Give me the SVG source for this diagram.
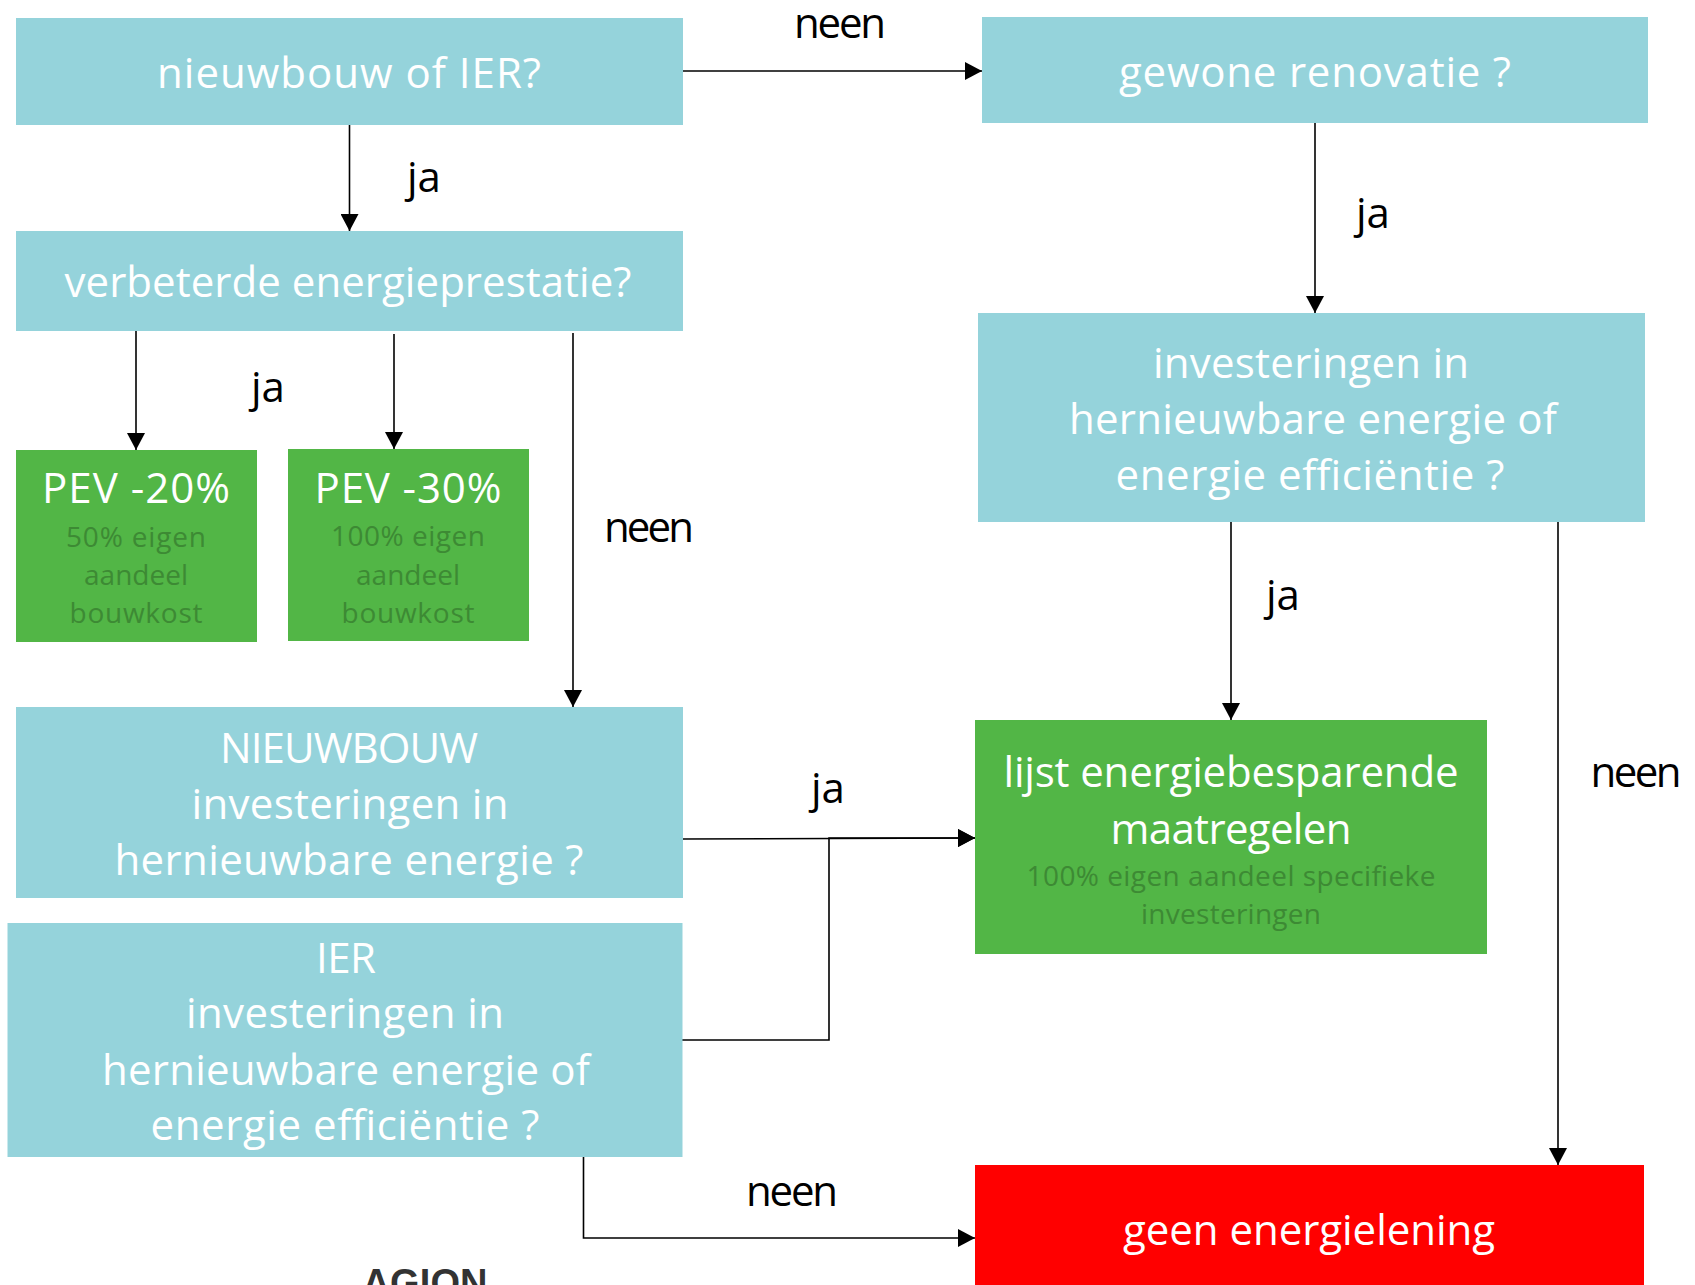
<svg xmlns="http://www.w3.org/2000/svg" width="1695" height="1285" viewBox="0 0 1695 1285">
<style>
.blue{fill:#95D3DB}
.green{fill:#52B646}
.red{fill:#FF0000}
.t{font-family:"Open Sans","Noto Sans","DejaVu Sans",sans-serif;fill:#FFFFFF;font-size:42px;text-anchor:middle}
.s{font-family:"Open Sans","Noto Sans","DejaVu Sans",sans-serif;fill:#3D8A34;font-size:28px;text-anchor:middle}
.lbl{font-family:"Open Sans","Noto Sans","DejaVu Sans",sans-serif;fill:#000000;font-size:42px;text-anchor:middle}
.ln{fill:none;stroke:#000000;stroke-width:1.6}
</style>
<defs>
<marker id="ah" markerUnits="userSpaceOnUse" markerWidth="18" markerHeight="18" refX="17" refY="9" orient="auto">
<path d="M0,0 L17,9 L0,18 z" fill="#000000"/>
</marker>
</defs>
<rect width="1695" height="1285" fill="#FFFFFF"/>

<g id="connectors">
<path class="ln" d="M683,71 L982,71" marker-end="url(#ah)"/>
<path class="ln" d="M349.5,125 L349.5,231" marker-end="url(#ah)"/>
<path class="ln" d="M136,331 L136,450" marker-end="url(#ah)"/>
<path class="ln" d="M394,334 L394,449" marker-end="url(#ah)"/>
<path class="ln" d="M573,333 L573,707" marker-end="url(#ah)"/>
<path class="ln" d="M1315,123 L1315,313" marker-end="url(#ah)"/>
<path class="ln" d="M1231,522 L1231,720" marker-end="url(#ah)"/>
<path class="ln" d="M1558,522 L1558,1165" marker-end="url(#ah)"/>
<path class="ln" d="M682,839 L975,838" marker-end="url(#ah)"/>
<path class="ln" d="M682,1040 L829,1040 L829,838 L975,838" marker-end="url(#ah)"/>
<path class="ln" d="M583.5,1157 L583.5,1238 L975,1238" marker-end="url(#ah)"/>
<text class="lbl" x="840" y="38" textLength="92">neen</text>
<text class="lbl" x="424" y="192">ja</text>
<text class="lbl" x="268" y="402">ja</text>
<text class="lbl" x="649" y="542" textLength="90">neen</text>
<text class="lbl" x="1373" y="228">ja</text>
<text class="lbl" x="1283" y="610">ja</text>
<text class="lbl" x="828" y="803">ja</text>
<text class="lbl" x="1636" y="787" textLength="91">neen</text>
<text class="lbl" x="792" y="1206" textLength="92">neen</text>
</g>

<g id="n-nieuwbouw-ier">
<rect class="blue" x="16" y="18" width="667" height="107"/>
<text class="t" x="349" y="88" textLength="384">nieuwbouw of IER?</text>
</g>

<g id="n-gewone-renovatie">
<rect class="blue" x="982" y="17" width="666" height="106"/>
<text class="t" x="1315" y="87" textLength="392">gewone renovatie ?</text>
</g>

<g id="n-verbeterde">
<rect class="blue" x="16" y="231" width="667" height="100"/>
<text class="t" x="348" y="297" textLength="567">verbeterde energieprestatie?</text>
</g>

<g id="n-pev20">
<rect class="green" x="16" y="450" width="241" height="192"/>
<text class="t" x="136" y="503" textLength="188">PEV -20%</text>
<text class="s" x="136" y="547" textLength="140">50% eigen</text>
<text class="s" x="136" y="585" textLength="104">aandeel</text>
<text class="s" x="136" y="623" textLength="133">bouwkost</text>
</g>

<g id="n-pev30">
<rect class="green" x="288" y="449" width="241" height="192"/>
<text class="t" x="408" y="503" textLength="187">PEV -30%</text>
<text class="s" x="408" y="546" textLength="154">100% eigen</text>
<text class="s" x="408" y="585" textLength="104">aandeel</text>
<text class="s" x="408" y="623" textLength="133">bouwkost</text>
</g>

<g id="n-investeringen-renovatie">
<rect class="blue" x="978" y="313" width="667" height="209"/>
<text class="t" x="1311" y="378" textLength="316">investeringen in</text>
<text class="t" x="1313" y="434" textLength="488">hernieuwbare energie of</text>
<text class="t" x="1310" y="490" textLength="389">energie efficiëntie ?</text>
</g>

<g id="n-nieuwbouw-investeringen">
<rect class="blue" x="16" y="707" width="667" height="191"/>
<text class="t" x="349" y="763" textLength="258">NIEUWBOUW</text>
<text class="t" x="350" y="819" textLength="317">investeringen in</text>
<text class="t" x="349" y="875" textLength="469">hernieuwbare energie ?</text>
</g>

<g id="n-ier-investeringen">
<rect class="blue" x="7.5" y="923" width="675" height="234"/>
<text class="t" x="346" y="973" textLength="60">IER</text>
<text class="t" x="345" y="1028" textLength="318">investeringen in</text>
<text class="t" x="346" y="1085" textLength="488">hernieuwbare energie of</text>
<text class="t" x="345" y="1140" textLength="389">energie efficiëntie ?</text>
</g>

<g id="n-lijst">
<rect class="green" x="975" y="720" width="512" height="234"/>
<text class="t" x="1231" y="787" textLength="455">lijst energiebesparende</text>
<text class="t" x="1231" y="844" textLength="241">maatregelen</text>
<text class="s" x="1231" y="886" textLength="409">100% eigen aandeel specifieke</text>
<text class="s" x="1231" y="924" textLength="180">investeringen</text>
</g>

<g id="n-geen">
<rect class="red" x="975" y="1165" width="669" height="125"/>
<text class="t" x="1309" y="1245" textLength="372">geen energielening</text>
</g>

<text x="425" y="1296" font-family="'Liberation Sans',Arial,sans-serif" font-weight="bold" font-size="38" fill="#333333" text-anchor="middle" textLength="125">AGION</text>
</svg>
